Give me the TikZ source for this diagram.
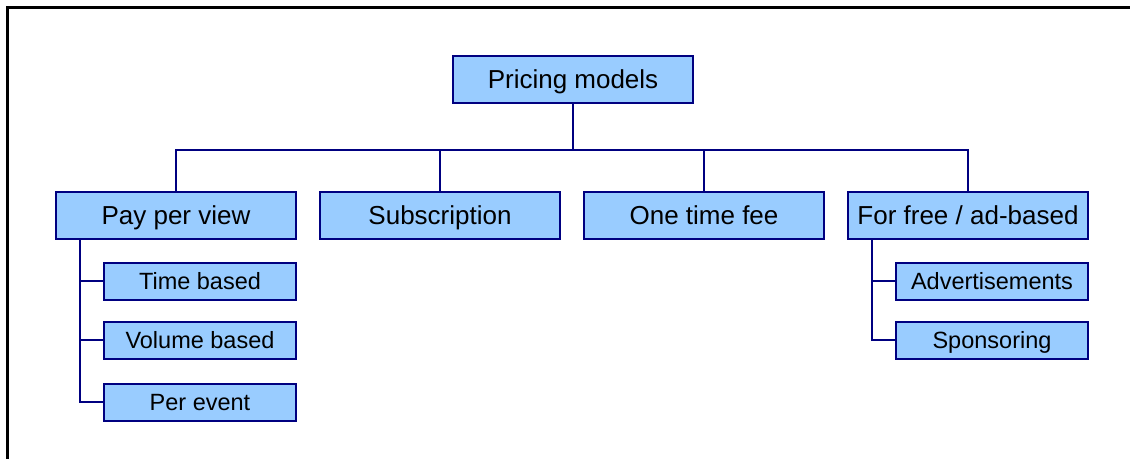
\documentclass[tikz,border=0pt]{standalone}
\usepackage{fontspec}
\setmainfont{Liberation Sans}
\usetikzlibrary{positioning}
\definecolor{pricingFill}{HTML}{99CCFF}
\definecolor{pricingLine}{HTML}{000080}

\begin{document}
\begin{tikzpicture}[
  x=1pt,y=-1pt,
  node distance=24pt,
  model/.style={draw=pricingLine,fill=pricingFill,line width=2pt,outer sep=0pt,minimum width=240pt,minimum height=47pt,inner sep=0pt,text height=18.6pt,text depth=0pt,font=\fontsize{26}{30}\selectfont},
  variant/.style={model,minimum width=192pt,minimum height=37pt,text height=16.8pt,font=\fontsize{23.5}{28}\selectfont},
  link/.style={pricingLine,line width=2pt}
]
  \useasboundingbox (0,0) rectangle (1130,458);
  \draw[line width=3pt] (7.5,470) |- (1140,7.5);

  \node[model] (root) at (573,79) {Pricing models};
  \node[model] (ppv) at (176,215) {Pay per view};
  \node[model,right=of ppv] (subs) {Subscription};
  \node[model,right=of subs] (once) {One time fee};
  \node[model,right=of once] (free) {For free / ad-based};

  % second level hangs off a shared bar
  \coordinate[below=47pt of root.south] (bar);
  \draw[link] (root) -- (bar);
  \draw[link] (bar) -| (ppv);
  \draw[link] (bar) -| (subs);
  \draw[link] (bar) -| (once);
  \draw[link] (bar) -| (free);

  \node[variant,below=24pt of ppv.south east,anchor=north east] (time) {Time based};
  \node[variant,below=22pt of time] (volume) {Volume based};
  \node[variant,below=25pt of volume] (event) {Per event};
  \node[variant,below=24pt of free.south east,anchor=north east] (ads) {Advertisements};
  \node[variant,below=22pt of ads] (sponsor) {Sponsoring};

  \coordinate (ppvspine) at ([xshift=24pt]ppv.south west);
  \coordinate (freespine) at ([xshift=24pt]free.south west);
  \draw[link] (ppvspine) |- (time);
  \draw[link] (ppvspine) |- (volume);
  \draw[link] (ppvspine) |- (event);
  \draw[link] (freespine) |- (ads);
  \draw[link] (freespine) |- (sponsor);
\end{tikzpicture}
\end{document}
